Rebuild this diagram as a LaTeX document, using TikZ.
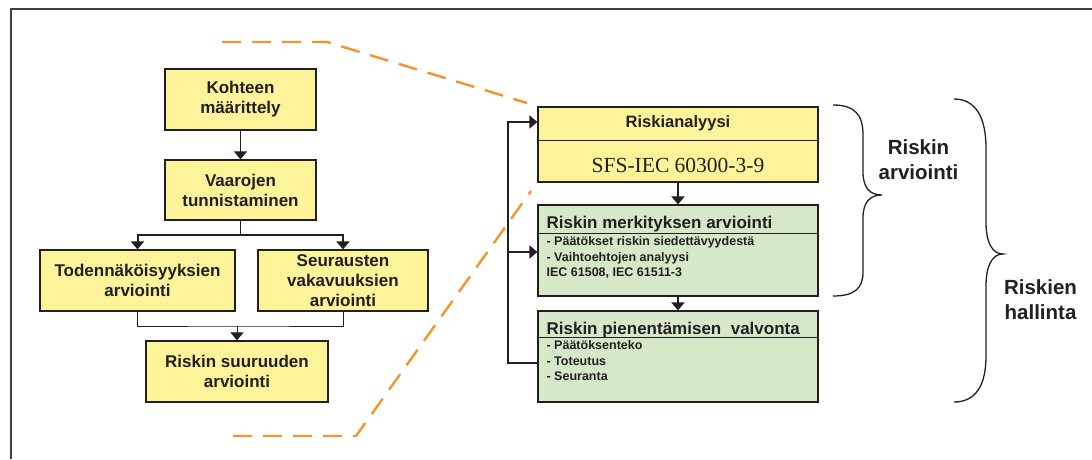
\documentclass[tikz,border=0pt]{standalone}
\usepackage{fontspec}
\setmainfont{Liberation Sans}
\newfontfamily\serifrm{Liberation Serif}
\usepackage{tikz}
\usetikzlibrary{arrows.meta}
\definecolor{ink}{RGB}{35,31,32}
\definecolor{boxyellow}{RGB}{253,243,152}
\definecolor{boxgreen}{RGB}{213,233,201}
\definecolor{dashorange}{RGB}{247,146,45}

\begin{document}
\begin{tikzpicture}[x=1pt,y=-1pt,
	every node/.style={font=\bfseries\fontsize{17}{20}\selectfont, text=ink},
	ybox/.style={draw=ink, line width=1.2pt, fill=boxyellow, align=center, inner sep=1pt},
	gbox/.style={draw=ink, line width=1.2pt, fill=boxgreen, inner sep=0pt},
	arr/.style={-{Triangle[width=13pt,length=8pt]}},
	fbline/.style={line width=2.2pt, draw=ink},
	zoomline/.style={dashorange, line width=2.4pt, dash pattern=on 19pt off 11pt},
	brace/.style={ink, line width=1.3pt},
	small/.style={font=\bfseries\fontsize{12.5}{15.5}\selectfont, anchor=north west, align=left, inner sep=0pt},
	label/.style={font=\bfseries\fontsize{20.5}{25}\selectfont, align=center}]
	\useasboundingbox (0,0) rectangle (1092,459);
	% frame
	\draw[line width=1.6pt, black!75] (11,459) -- (11,9) -- (1092,9);
	% orange zoom lines (behind everything)
	\draw[zoomline] (222,42) -- (327,42) -- (527,103);
	\draw[zoomline] (233,436) -- (356,436) -- (531,191);
	% left flow
	\node[ybox, minimum width=151, minimum height=61] (kohde) at (240.5,99.5) {Kohteen\\ määrittely};
	\node[ybox, minimum width=151, minimum height=60] (vaara) at (240.5,190) {Vaarojen\\ tunnistaminen};
	\node[ybox, minimum width=195, minimum height=61] (tod) at (137.5,280.5) {Todennäköisyyksien\\ arviointi};
	\node[ybox, minimum width=170, minimum height=61] (seur) at (343,280.5) {Seurausten\\ vakavuuksien\\ arviointi};
	\node[ybox, minimum width=182, minimum height=61] (suur) at (237,371.5) {Riskin suuruuden\\ arviointi};
	\coordinate (split) at (240.5,235);
	\coordinate (merge) at (237,326);
	\draw[ink, line width=1pt, arr] (kohde) -- (vaara);
	\draw[ink, line width=1pt] (vaara.south) -- (split);
	\draw[ink, line width=2pt, arr] (split) -| (tod.north);
	\draw[ink, line width=2pt, arr] (split) -| (seur.north);
	\draw[ink, line width=1pt] (tod.south) |- (merge) -| (seur.south);
	\draw[ink, line width=1pt, arr] (merge) -- (suur.north);
	% right flow
	\node[ybox, minimum width=280, minimum height=75] (riski) at (678,144.5) {};
	\draw[ink, line width=1pt] ([yshift=-34pt]riski.north west) -- ([yshift=-34pt]riski.north east);
	\node[font=\bfseries\fontsize{16.5}{19}\selectfont] (riskit) at ([yshift=-17pt]riski.north) {Riskianalyysi};
	\node[font=\serifrm\fontsize{21.5}{24}\selectfont] (sfs) at ([yshift=-59pt]riski.north) {SFS-IEC 60300-3-9};
	\node[gbox, minimum width=280, minimum height=91] (merk) at (678,250.5) {};
	\draw[ink, line width=1pt] ([yshift=-29pt]merk.north west) -- ([yshift=-29pt]merk.north east);
	\node[anchor=base west, inner sep=0pt] (merkt) at ([xshift=9pt,yshift=-24pt]merk.north west) {Riskin merkityksen arviointi};
	\node[small] (merkb) at ([xshift=9pt,yshift=-32pt]merk.north west) {- Päätökset riskin siedettävyydestä\\- Vaihtoehtojen analyysi\\IEC 61508, IEC 61511-3};
	\node[gbox, minimum width=280, minimum height=91] (pien) at (678,356.5) {};
	\draw[ink, line width=1pt] ([yshift=-27pt]pien.north west) -- ([yshift=-27pt]pien.north east);
	\node[anchor=base west, inner sep=0pt] (pient) at ([xshift=9pt,yshift=-24pt]pien.north west) {Riskin pienentämisen\ \ valvonta};
	\node[small] (pienb) at ([xshift=9pt,yshift=-30pt]pien.north west) {- Päätöksenteko\\- Toteutus\\- Seuranta};
	\draw[ink, line width=2.2pt, arr] (riski) -- (merk);
	\draw[ink, line width=2.2pt, arr] (merk) -- (pien);
	% feedback loop
	\coordinate (loopb) at (508,363);
	\coordinate (loopm) at (508,252);
	\coordinate (loopt) at (508,122);
	\draw[fbline, arr] (pien.west |- loopb) -- (loopb) -- (loopt) -- (riski.west |- loopt);
	\draw[fbline, arr] (loopm) -- (merk.west |- loopm);
	% braces
	\draw[brace] (833,105) .. controls (855,105) and (863,115) .. (863,135) -- (863,172)
		.. controls (863,188) and (870,195) .. (882,195) .. controls (870,195) and (863,202) .. (863,218)
		-- (863,272) .. controls (863,288) and (855,296) .. (833,296);
	\node[label] (arvl) at (918.5,159.5) {Riskin\\ arviointi};
	\draw[brace] (954,99) .. controls (976,99) and (986,118) .. (986,148) -- (986,222)
		.. controls (986,242) and (992,254) .. (1003,254) .. controls (992,254) and (986,266) .. (986,286)
		-- (986,356) .. controls (986,385) and (976,402) .. (954,402);
	\node[label] (hall) at (1040.5,299.5) {Riskien\\ hallinta};
\end{tikzpicture}
\end{document}
